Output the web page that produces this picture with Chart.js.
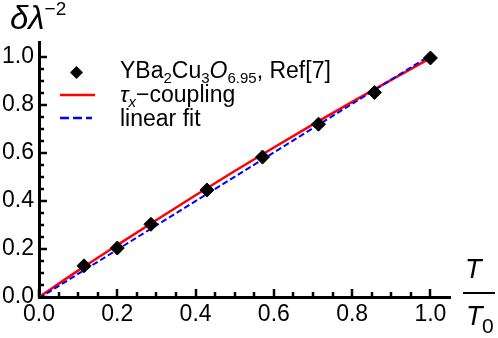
<!DOCTYPE html>
<html>
<head>
<meta charset="utf-8">
<script src="https://cdn.jsdelivr.net/npm/chart.js@4"></script>
<style>
  body { margin: 0; background: #fff; font-family: Arial, "Liberation Sans", sans-serif; }
  #wrap { position: relative; width: 498px; height: 338px; }
  .lbl { position: absolute; color: #000; white-space: nowrap; line-height: 1; }
  .row { position: absolute; left: 120px; white-space: nowrap; font-size: 23px; line-height: 1; }
  sub { font-size: 15px; vertical-align: -5px; line-height: 1; }
</style>
</head>
<body>
<div id="wrap">
  <canvas id="chart" width="498" height="338"></canvas>
  <div class="lbl" style="left:10px; top:1px; font-size:33px;"><i>δλ</i><span style="font-size:19px; position:relative; top:-14px;">−2</span></div>
  <div class="lbl" style="left:465px; top:256px; font-size:27px;"><i>T</i></div>
  <div style="position:absolute; left:463px; top:292px; width:32px; height:2px; background:#000;"></div>
  <div class="lbl" style="left:466px; top:303px; font-size:27px;"><i>T</i></div>
  <div class="lbl" style="left:482px; top:315px; font-size:21px;">0</div>
  <div class="row" style="top:59px;">YBa<sub>2</sub>Cu<sub>3</sub><i>O</i><sub>6.95</sub>, Ref[7]</div>
  <div class="row" style="top:83px;"><i>τ</i><sub><i>x</i></sub>−coupling</div>
  <div class="row" style="top:107px;">linear fit</div>
</div>
<script>
const tempRatio = [0.115, 0.2, 0.286, 0.429, 0.571, 0.714, 0.857, 1.0];
const lambdaData = [0.13, 0.204, 0.303, 0.446, 0.583, 0.72, 0.852, 0.996];

const couplingX = [0, 0.1, 0.2, 0.3, 0.4, 0.5, 0.6, 0.7, 0.8, 0.9, 1.0];
const couplingY = [0, 0.11, 0.216, 0.321, 0.424, 0.525, 0.623, 0.719, 0.813, 0.905, 0.995];

const fitX = [0, 1.0];
const fitY = [-0.005, 1.007];

const xTicks = [0, 0.2, 0.4, 0.6, 0.8, 1.0];
const yTicks = [0, 0.2, 0.4, 0.6, 0.8, 1.0];

function pairs(xs, ys) {
  return xs.map((x, i) => ({ x: x, y: ys[i] }));
}

// inward ticks + legend symbols
const extras = {
  id: 'extras',
  afterDraw(chart) {
    const ctx = chart.ctx;
    const xs = chart.scales.x, ys = chart.scales.y;
    const area = chart.chartArea;
    ctx.save();
    ctx.strokeStyle = '#000';
    ctx.lineWidth = 2.5;
    for (let v = 0; v <= 1.0001; v += 0.05) {
      const major = Math.abs(v * 5 - Math.round(v * 5)) < 1e-6;
      const len = major ? 8 : 5;
      const px = Math.round(xs.getPixelForValue(v));
      ctx.beginPath();
      ctx.moveTo(px, area.bottom);
      ctx.lineTo(px, area.bottom - len);
      ctx.stroke();
      const py = Math.round(ys.getPixelForValue(v));
      ctx.beginPath();
      ctx.moveTo(area.left, py);
      ctx.lineTo(area.left + len, py);
      ctx.stroke();
    }
    // legend symbols
    ctx.fillStyle = '#000';
    ctx.beginPath();
    ctx.moveTo(76.5, 66); ctx.lineTo(83, 72.5); ctx.lineTo(76.5, 79); ctx.lineTo(70, 72.5);
    ctx.closePath();
    ctx.fill();
    ctx.strokeStyle = '#ff0000';
    ctx.lineWidth = 2.5;
    ctx.beginPath(); ctx.moveTo(60, 95); ctx.lineTo(95, 95); ctx.stroke();
    ctx.strokeStyle = '#0000ff';
    ctx.lineWidth = 2.5;
    ctx.setLineDash([9, 4]);
    ctx.beginPath(); ctx.moveTo(60, 118); ctx.lineTo(92, 118); ctx.stroke();
    ctx.restore();
  }
};

new Chart(document.getElementById('chart'), {
  type: 'scatter',
  data: {
    datasets: [
      {
        label: 'YBa2Cu3O6.95, Ref[7]',
        data: pairs(tempRatio, lambdaData),
        pointStyle: 'rectRot',
        pointRadius: 7,
        pointBackgroundColor: '#000',
        pointBorderColor: '#000',
        showLine: false
      },
      {
        label: 'linear fit',
        data: pairs(fitX, fitY),
        showLine: true,
        borderColor: '#0000ff',
        borderWidth: 2,
        borderDash: [6, 3],
        pointRadius: 0
      },
      {
        label: 'tau_x-coupling',
        data: pairs(couplingX, couplingY),
        showLine: true,
        borderColor: '#ff0000',
        borderWidth: 2.5,
        cubicInterpolationMode: 'monotone',
        pointRadius: 0
      }
    ]
  },
  options: {
    responsive: false,
    animation: false,
    layout: { padding: { left: 0, top: 42, right: 48, bottom: 0 } },
    plugins: { legend: { display: false }, tooltip: { enabled: false } },
    scales: {
      x: {
        type: 'linear',
        min: 0, max: 1.05,
        afterFit: s => { s.height = 41; },
        afterBuildTicks: s => { s.ticks = xTicks.map(v => ({ value: v })); },
        grid: { display: false, drawTicks: false },
        border: { display: true, color: '#000', width: 3 },
        ticks: {
          color: '#000', padding: 4,
          font: { family: 'Arial, "Liberation Sans", sans-serif', size: 23 },
          callback: v => v.toFixed(1)
        }
      },
      y: {
        type: 'linear',
        min: 0, max: 1.0625,
        afterFit: s => { s.width = 39; },
        afterBuildTicks: s => { s.ticks = yTicks.map(v => ({ value: v })); },
        grid: { display: false, drawTicks: false },
        border: { display: true, color: '#000', width: 3 },
        ticks: {
          color: '#000', padding: 5,
          font: { family: 'Arial, "Liberation Sans", sans-serif', size: 23 },
          callback: v => v.toFixed(1)
        }
      }
    }
  },
  plugins: [extras]
});
</script>
</body>
</html>
